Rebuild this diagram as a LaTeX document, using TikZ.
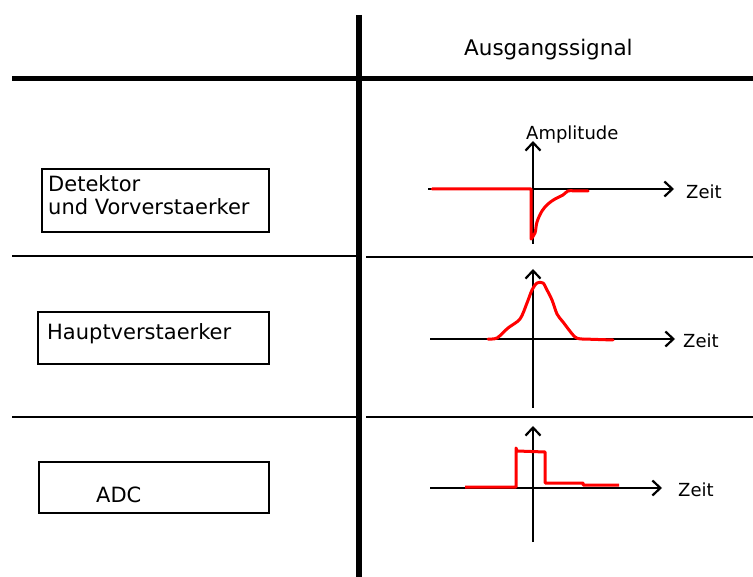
\documentclass[tikz,border=0pt]{standalone}
\usepackage{fontspec}
\setmainfont{DejaVu Sans}
\usetikzlibrary{arrows.meta}
\tikzset{
  thickrule/.style={line width=5pt},
  thinrule/.style={line width=2pt},
  boxshape/.style={draw, line width=2pt, rectangle, inner sep=0pt},
  boxtext/.style={anchor=base west, inner sep=0pt, font=\fontsize{21}{23}\selectfont},
  axis/.style={line width=2.2pt, -{Straight Barb[length=8pt,width=15pt,line width=2.2pt]}},
  axislabel/.style={anchor=west, inner sep=0pt, font=\fontsize{18}{20}\selectfont},
  signal/.style={red, line width=3pt, line join=round, line cap=round},
}
\begin{document}
\begin{tikzpicture}[x=1pt,y=-1pt]
\useasboundingbox (0,0) rectangle (753,577);
% grid lines
\coordinate (vtop) at (359,15);
\coordinate (vbot) at (359,577);
\draw[line width=6pt] (vtop) -- (vbot);
\coordinate (h0l) at (12,79);
\coordinate (h0r) at (753,79);
\draw[thickrule] (h0l) -- (h0r);
\coordinate (h1l) at (12,256.5);
\coordinate (h1m) at (357,256.5);
\coordinate (h1n) at (366,257.5);
\coordinate (h1r) at (753,257.5);
\draw[thinrule] (h1l) -- (h1m);
\draw[thinrule] (h1n) -- (h1r);
\coordinate (h2l) at (12,417);
\coordinate (h2m) at (357,417);
\coordinate (h2n) at (366,417);
\coordinate (h2r) at (753,417);
\draw[thinrule] (h2l) -- (h2m);
\draw[thinrule] (h2n) -- (h2r);
% title
\node[anchor=base west, inner sep=0pt, font=\fontsize{21.5}{24}\selectfont] (title) at (464,56) {Ausgangssignal};
% boxes
\node[boxshape, minimum width=227pt, minimum height=63pt] (b1) at (155.5,200.5) {};
\node[boxtext] (t1a) at (48,192) {Detektor};
\node[boxtext] (t1b) at (48,215) {und Vorverstaerker};
\node[boxshape, minimum width=231pt, minimum height=52pt] (b2) at (153.5,338) {};
\node[boxtext] (t2) at (47,340) {Hauptverstaerker};
\node[boxshape, minimum width=230pt, minimum height=51pt] (b3) at (154,487.5) {};
\node[boxtext] (t3) at (96,502) {ADC};
% graph 1
\coordinate (g1xa) at (428,189);
\coordinate (g1xb) at (674,189);
\coordinate (g1ya) at (533,244);
\coordinate (g1yb) at (533,141);
\draw[axis] (g1xa) -- (g1xb);
\draw[axis] (g1ya) -- (g1yb);
\node[axislabel] (amp) at (526,135) {Amplitude};
\node[axislabel] (z1) at (686,192) {Zeit};
\draw[signal] (432,189) -- (531,189) -- (531,239)
  plot[smooth, tension=0.6] coordinates {(531,239) (535,233) (537,222) (542,211) (548,204) (555,199) (563,195) (568,191) (575,191)} -- (588,191);
% graph 2
\coordinate (g2xa) at (430,339);
\coordinate (g2xb) at (675,339);
\coordinate (g2ya) at (533,408);
\coordinate (g2yb) at (533,269);
\draw[axis] (g2xa) -- (g2xb);
\draw[axis] (g2ya) -- (g2yb);
\node[axislabel] (z2) at (683,341) {Zeit};
\draw[signal] plot[smooth, tension=0.5] coordinates {(488,339) (497,338) (508,328) (520,319) (527,303) (532,290) (537,283) (543,283) (547,290) (552,300) (557,314) (563,322) (575,337) (583,339)} -- (613,340);
% graph 3
\coordinate (g3xa) at (430,488);
\coordinate (g3xb) at (662,488);
\coordinate (g3ya) at (533,542);
\coordinate (g3yb) at (533,426);
\draw[axis] (g3xa) -- (g3xb);
\draw[axis] (g3ya) -- (g3yb);
\node[axislabel] (z3) at (678,490) {Zeit};
\draw[signal, line cap=butt] (465,487) -- (516,487) -- (516,448) -- (517,451) -- (545,452) -- (545,483) -- (583,483) -- (583,485) -- (619,485);
\end{tikzpicture}
\end{document}
